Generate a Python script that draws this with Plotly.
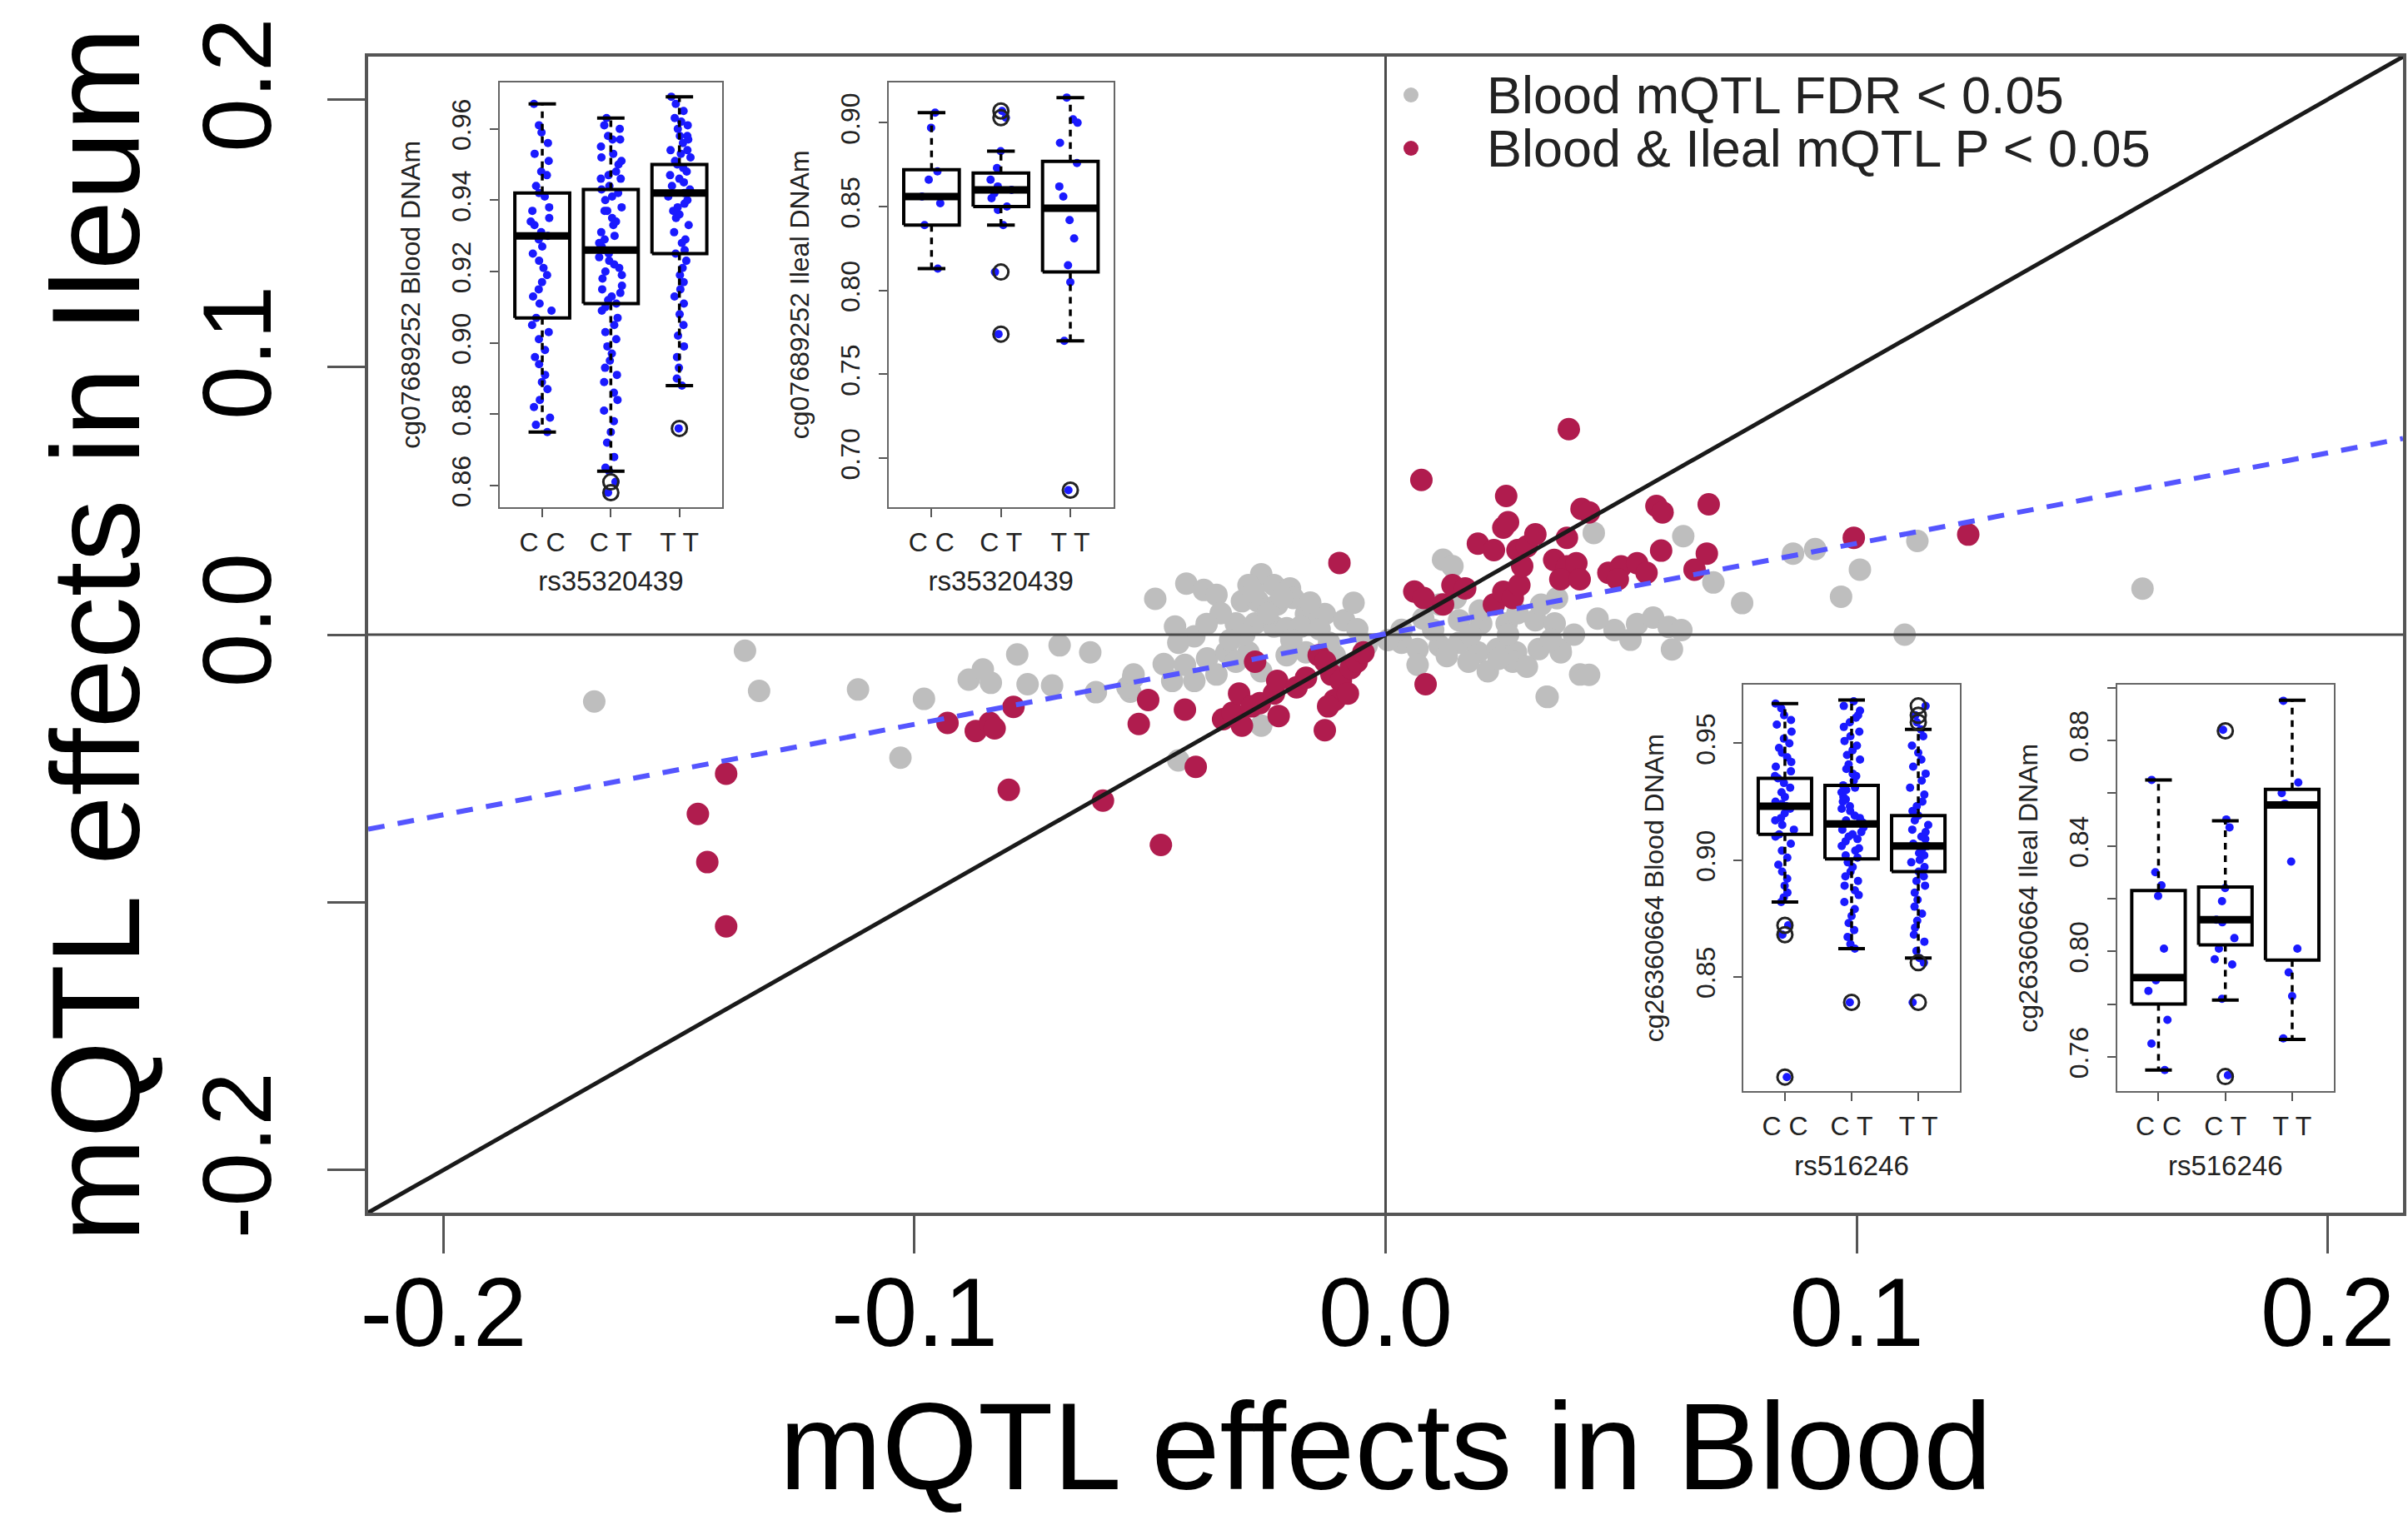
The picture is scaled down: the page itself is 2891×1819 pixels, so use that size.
import plotly.graph_objects as go

W, H = 2891, 1819
FONT = "Liberation Sans, Arial, Helvetica, sans-serif"

# ---------------- main scatter data (effect sizes) ----------------
gray_x = [-0.168, -0.136, -0.133, -0.112, -0.103, -0.098, -0.0885, -0.0855, -0.0838, -0.0782,
          -0.076, -0.0692, -0.0708, -0.0627, -0.0615, -0.0536, -0.0542, -0.0548, -0.0489, -0.0471,
          -0.0535, -0.0423, -0.0386, -0.0359, -0.0264, -0.0291, -0.0237, -0.0203, -0.0305, -0.0271,
          -0.023, -0.0196, -0.0169, -0.0129, -0.0088, -0.0068, -0.0318, -0.0277, -0.0237, -0.021,
          -0.0447, -0.0406, -0.044, -0.0426, -0.0379, -0.0338, -0.0291, -0.0318, -0.0453, -0.0406,
          -0.0359, -0.0264, -0.021, -0.0169, -0.0264, -0.044, -0.0101, -0.0108,
          -0.025, -0.018, -0.014, -0.035, -0.030, -0.020, -0.012, -0.006, -0.004, -0.038, -0.033,
          -0.028, -0.022, -0.016,
          0.0122, 0.0142, 0.0034, 0.0068, 0.0115, 0.0156, 0.0196, 0.0237, 0.0277, 0.0325, 0.0372,
          0.0068, 0.0217, 0.0176, 0.027, 0.0342, 0.0413, 0.0156, 0.0203, 0.0257, 0.0318, 0.0359,
          0.0034, 0.0101, 0.0115, 0.0149, 0.0442, 0.0632, 0.0696, 0.0757, 0.0865, 0.0912, 0.1007,
          0.0967, 0.1129, 0.1102, 0.1607, 0.0486, 0.0534, 0.0568, 0.0601, 0.0628, 0.052, 0.0608,
          0.0371, 0.0351, 0.0432, 0.0344, 0.033, 0.0364,
          0.008, 0.020, 0.028, 0.013, 0.024, 0.030, 0.018, 0.026, 0.040, 0.045, 0.0005]
gray_y = [-0.025, -0.006, -0.021, -0.0205, -0.046, -0.024, -0.0168, -0.013, -0.018, -0.0074,
          -0.0185, -0.004, -0.019, -0.0066, -0.0215, -0.0161, -0.0213, -0.0197, 0.0134, -0.011,
          -0.0149, 0.0191, 0.0167, 0.0149, 0.0226, 0.0185, 0.0185, 0.0173, 0.0125, 0.0125,
          0.0113, 0.0137, 0.0077, 0.0077, 0.0054, 0.0119, 0.0042, 0.0042, 0.003, 0.0024,
          0.003, -0.0006, -0.003, -0.0113, -0.0089, -0.0066, -0.0066, -0.0101, -0.0173, -0.0173,
          -0.0149, -0.0137, -0.0077, -0.0066, -0.034, -0.047, -0.0137, -0.0077,
          0.008, 0.003, 0.002, 0.008, 0.000, -0.002, -0.003, 0.002, -0.004, 0.004, -0.002,
          0.016, 0.014, 0.012,
          0.028, 0.0256, -0.003, -0.0054, -0.0042, -0.003, -0.0066, -0.0054, -0.0066, -0.0054, -0.0066,
          -0.0113, -0.0137, -0.0101, -0.0101, -0.0232, -0.0149, 0.0054, 0.0042, 0.0042, 0.0054, 0.0042,
          0.0018, 0.0018, 0.0113, 0.0137, 0.038, 0.0368, 0.0195, 0.0118, 0.0303, 0.032, 0.0243,
          0.0142, 0.035, 0.000, 0.0172, 0.0017, 0.004, 0.0064, 0.0029, 0.0017, -0.0019, -0.0055,
          -0.0055, -0.0019, -0.015, -0.0233, 0.0112, 0.0136,
          0.006, 0.009, 0.008, -0.008, -0.009, -0.012, 0.000, 0.000, 0.000, 0.006, -0.002]

red_x = [-0.146, -0.140, -0.144, -0.140, -0.093, -0.087, -0.084, -0.083, -0.079, -0.080,
         -0.060, -0.0524, -0.0504, -0.0477, -0.0426, -0.0403, -0.0345, -0.0325, -0.0311, -0.0305,
         -0.0284, -0.0277, -0.0267, -0.0237, -0.023, -0.0227, -0.0189, -0.0169, -0.0142, -0.0128,
         -0.0115, -0.0095, -0.0108, -0.0122, -0.0129, -0.0074, -0.0061, -0.0047, -0.0098, -0.008,
         0.0085, 0.0061, 0.0081, 0.0122, 0.0142, 0.0169, 0.023, 0.025, 0.027, 0.0284,
         0.029, 0.0196, 0.023, 0.025, 0.026, 0.028, 0.030, 0.0318, 0.0076, 0.0256,
         0.0389, 0.0385, 0.0416, 0.0432, 0.0358, 0.0385, 0.0405, 0.0371, 0.0412, 0.0473,
         0.050, 0.0534, 0.0554, 0.0493, 0.0585, 0.0575, 0.0588, 0.0686, 0.0682, 0.0656,
         0.0994, 0.1237]
red_y = [-0.067, -0.052, -0.085, -0.109, -0.033, -0.036, -0.033, -0.035, -0.027, -0.058,
         -0.062, -0.0334, -0.0244, -0.0786, -0.028, -0.0494, -0.0316, -0.0292, -0.022, -0.034,
         -0.0268, -0.0101, -0.0256, -0.022, -0.0173, -0.0304, -0.0197, -0.0161, -0.0077, -0.0101,
         -0.0149, -0.0173, -0.0244, -0.0268, -0.0357, -0.0125, -0.0101, -0.0066, 0.0268, -0.022,
         -0.0185, 0.0161, 0.0137, 0.0113, 0.0185, 0.0173, 0.0113, 0.016, 0.0137, 0.0185,
         0.0256, 0.034, 0.0316, 0.040, 0.042, 0.0316, 0.033, 0.0375, 0.0578, 0.0518,
         0.0768, 0.0362, 0.047, 0.0457, 0.0279, 0.0255, 0.0267, 0.0207, 0.0207, 0.0231,
         0.0255, 0.0267, 0.0231, 0.0207, 0.0314, 0.0481, 0.0457, 0.0487, 0.0303, 0.0243,
         0.0362, 0.0374]

fit_intercept = 0.0003
fit_slope = 0.338
axis_lim = 0.216
main_ticks = [-0.2, -0.1, 0.0, 0.1, 0.2]
main_xticktext = ["-0.2", "-0.1", "0.0", "0.1", "0.2"]
main_yticktext = ["-0.2", "", "0.0", "0.1", "0.2"]
legend_labels = ["Blood mQTL FDR < 0.05", "Blood & Ileal mQTL P < 0.05"]

# ---------------- inset data ----------------
genotypes = ["C C", "C T", "T T"]

# inset 1: cg07689252 blood, rs35320439
b1_cc = [0.967, 0.961, 0.959, 0.956, 0.953, 0.951, 0.948, 0.947, 0.944, 0.942, 0.941, 0.938, 0.937,
         0.935, 0.934, 0.933, 0.931, 0.930, 0.929, 0.927, 0.925, 0.923, 0.921, 0.919, 0.917, 0.915,
         0.913, 0.911, 0.909, 0.907, 0.905, 0.903, 0.901, 0.898, 0.896, 0.894, 0.891, 0.889, 0.887,
         0.884, 0.882, 0.879, 0.877, 0.875]
b1_ct = [0.963, 0.961, 0.960, 0.958, 0.957, 0.957, 0.955, 0.953, 0.952, 0.951, 0.950, 0.948, 0.947,
         0.946, 0.946, 0.944, 0.943, 0.942, 0.941, 0.940, 0.938, 0.937, 0.937, 0.935, 0.934, 0.933,
         0.931, 0.930, 0.929, 0.928, 0.927, 0.926, 0.926, 0.925, 0.924, 0.923, 0.922, 0.921, 0.920,
         0.919, 0.918, 0.916, 0.915, 0.914, 0.913, 0.912, 0.911, 0.910, 0.909, 0.907, 0.905, 0.903,
         0.901, 0.899, 0.897, 0.895, 0.893, 0.891, 0.889, 0.886, 0.884, 0.881, 0.878, 0.875, 0.872,
         0.868, 0.865, 0.864, 0.861, 0.858]
b1_tt = [0.969, 0.967, 0.965, 0.963, 0.962, 0.961, 0.960, 0.958, 0.958, 0.957, 0.956, 0.954, 0.954,
         0.953, 0.952, 0.951, 0.950, 0.949, 0.948, 0.947, 0.946, 0.945, 0.944, 0.943, 0.942, 0.941,
         0.940, 0.939, 0.938, 0.937, 0.936, 0.935, 0.933, 0.931, 0.929, 0.928, 0.926, 0.925, 0.923,
         0.921, 0.919, 0.917, 0.915, 0.913, 0.911, 0.908, 0.905, 0.902, 0.899, 0.896, 0.893, 0.890,
         0.888, 0.876]
b1_lo = [0.875, 0.864, 0.888]
b1_q1 = [0.907, 0.911, 0.925]
b1_med = [0.930, 0.926, 0.942]
b1_q3 = [0.942, 0.943, 0.950]
b1_hi = [0.967, 0.963, 0.969]
b1_out = [[], [0.861, 0.858], [0.876]]

# inset 2: cg07689252 ileal, rs35320439
i1_cc = [0.906, 0.897, 0.871, 0.866, 0.856, 0.852, 0.839, 0.813]
i1_ct = [0.907, 0.903, 0.883, 0.873, 0.866, 0.862, 0.860, 0.858, 0.855, 0.850, 0.848, 0.839, 0.811, 0.774]
i1_tt = [0.915, 0.902, 0.900, 0.888, 0.876, 0.862, 0.856, 0.842, 0.831, 0.815, 0.805, 0.770, 0.681]
i1_lo = [0.813, 0.839, 0.770]
i1_q1 = [0.839, 0.850, 0.811]
i1_med = [0.856, 0.860, 0.849]
i1_q3 = [0.872, 0.870, 0.877]
i1_hi = [0.906, 0.883, 0.915]
i1_out = [[], [0.907, 0.903, 0.811, 0.774], [0.681]]

# inset 3: cg26360664 blood, rs516246
b2_cc = [0.967, 0.965, 0.962, 0.960, 0.958, 0.955, 0.952, 0.950, 0.948, 0.946, 0.944, 0.942, 0.940,
         0.938, 0.936, 0.935, 0.933, 0.931, 0.929, 0.927, 0.925, 0.924, 0.923, 0.922, 0.920, 0.918,
         0.917, 0.915, 0.913, 0.911, 0.910, 0.907, 0.904, 0.901, 0.898, 0.895, 0.892, 0.889, 0.886,
         0.884, 0.882, 0.872, 0.868, 0.807]
b2_ct = [0.968, 0.966, 0.964, 0.962, 0.961, 0.959, 0.957, 0.955, 0.953, 0.951, 0.949, 0.947, 0.945,
         0.943, 0.941, 0.939, 0.937, 0.936, 0.934, 0.932, 0.931, 0.930, 0.929, 0.927, 0.926, 0.925,
         0.923, 0.922, 0.921, 0.919, 0.918, 0.917, 0.916, 0.915, 0.914, 0.913, 0.912, 0.911, 0.910,
         0.909, 0.908, 0.906, 0.905, 0.904, 0.902, 0.901, 0.899, 0.897, 0.895, 0.893, 0.891, 0.889,
         0.887, 0.885, 0.882, 0.879, 0.876, 0.873, 0.870, 0.867, 0.864, 0.862, 0.839]
b2_tt = [0.966, 0.962, 0.959, 0.956, 0.953, 0.949, 0.946, 0.943, 0.940, 0.937, 0.934, 0.931, 0.928,
         0.925, 0.923, 0.921, 0.919, 0.917, 0.915, 0.913, 0.912, 0.910, 0.909, 0.907, 0.906, 0.905,
         0.903, 0.902, 0.900, 0.899, 0.897, 0.895, 0.893, 0.891, 0.889, 0.886, 0.883, 0.880, 0.877,
         0.874, 0.871, 0.868, 0.865, 0.861, 0.858, 0.856, 0.839]
b2_lo = [0.882, 0.862, 0.858]
b2_q1 = [0.911, 0.9005, 0.895]
b2_med = [0.923, 0.9155, 0.906]
b2_q3 = [0.935, 0.932, 0.919]
b2_hi = [0.967, 0.9685, 0.956]
b2_out = [[0.872, 0.868, 0.807], [0.839], [0.966, 0.962, 0.959, 0.856, 0.839]]

# inset 4: cg26360664 ileal, rs516246
i2_cc = [0.865, 0.830, 0.825, 0.821, 0.801, 0.789, 0.785, 0.774, 0.765, 0.755]
i2_ct = [0.884, 0.850, 0.847, 0.824, 0.819, 0.812, 0.811, 0.805, 0.801, 0.797, 0.795, 0.782, 0.753]
i2_tt = [0.895, 0.864, 0.860, 0.856, 0.834, 0.801, 0.792, 0.783, 0.767]
i2_lo = [0.755, 0.7815, 0.7666]
i2_q1 = [0.780, 0.8024, 0.7967]
i2_med = [0.790, 0.812, 0.8555]
i2_q3 = [0.823, 0.8244, 0.8614]
i2_hi = [0.865, 0.8495, 0.8952]
i2_out = [[], [0.8836, 0.7525], []]

insets = [
    dict(ytitle="cg07689252 Blood DNAm", xtitle="rs35320439", groups=[b1_cc, b1_ct, b1_tt],
         lo=b1_lo, q1=b1_q1, med=b1_med, q3=b1_q3, hi=b1_hi, out=b1_out,
         yrange=[0.854, 0.973], yticks=[0.86, 0.88, 0.90, 0.92, 0.94, 0.96],
         yticktext=["0.86", "0.88", "0.90", "0.92", "0.94", "0.96"], box=(600, 866.7, 99, 608.6)),
    dict(ytitle="cg07689252 Ileal DNAm", xtitle="rs35320439", groups=[i1_cc, i1_ct, i1_tt],
         lo=i1_lo, q1=i1_q1, med=i1_med, q3=i1_q3, hi=i1_hi, out=i1_out,
         yrange=[0.671, 0.924], yticks=[0.70, 0.75, 0.80, 0.85, 0.90],
         yticktext=["0.70", "0.75", "0.80", "0.85", "0.90"], box=(1066.7, 1336.7, 99, 608.6)),
    dict(ytitle="cg26360664 Blood DNAm", xtitle="rs516246", groups=[b2_cc, b2_ct, b2_tt],
         lo=b2_lo, q1=b2_q1, med=b2_med, q3=b2_q3, hi=b2_hi, out=b2_out,
         yrange=[0.801, 0.975], yticks=[0.85, 0.90, 0.95],
         yticktext=["0.85", "0.90", "0.95"], box=(2093.3, 2352.7, 822.4, 1310)),
    dict(ytitle="cg26360664 Ileal DNAm", xtitle="rs516246", groups=[i2_cc, i2_ct, i2_tt],
         lo=i2_lo, q1=i2_q1, med=i2_med, q3=i2_q3, hi=i2_hi, out=i2_out,
         yrange=[0.747, 0.901], yticks=[0.76, 0.78, 0.80, 0.82, 0.84, 0.86, 0.88, 0.90],
         yticktext=["0.76", "", "0.80", "", "0.84", "", "0.88", ""], box=(2541.7, 2801.7, 822.4, 1310)),
]


def pxx(v):
    return v / W


def pxy(v):
    return 1 - v / H


fig = go.Figure()

# main points
fig.add_trace(go.Scatter(x=gray_x, y=gray_y, mode="markers", name=legend_labels[0],
                         marker=dict(color="#bebebe", size=27), hoverinfo="skip", showlegend=False))
fig.add_trace(go.Scatter(x=red_x, y=red_y, mode="markers", name=legend_labels[1],
                         marker=dict(color="#b01c4e", size=27), hoverinfo="skip", showlegend=False))
# reference lines
lim = axis_lim
fig.add_trace(go.Scatter(x=[-lim, lim], y=[0, 0], mode="lines", line=dict(color="#4a4a4a", width=3),
                         hoverinfo="skip", showlegend=False))
fig.add_trace(go.Scatter(x=[0, 0], y=[-lim, lim], mode="lines", line=dict(color="#4a4a4a", width=3),
                         hoverinfo="skip", showlegend=False))
fig.add_trace(go.Scatter(x=[-lim, lim], y=[-lim, lim], mode="lines", line=dict(color="#1a1a1a", width=5),
                         hoverinfo="skip", showlegend=False))
fig.add_trace(go.Scatter(x=[-lim, lim], y=[fit_intercept - fit_slope * lim, fit_intercept + fit_slope * lim],
                         mode="lines", line=dict(color="rgb(85,85,255)", width=6, dash="20px,16px"),
                         hoverinfo="skip", showlegend=False))

layout_axes = {}
hw = 0.4
for k, sp in enumerate(insets, start=2):
    xa, ya = "x%d" % k, "y%d" % k
    g = sp["groups"]
    # jittered sample points
    xs, ys = [], []
    for i, vals in enumerate(g):
        xs += [i + 1] * len(vals)
        ys += vals
    fig.add_trace(go.Box(x=xs, y=ys, xaxis=xa, yaxis=ya, boxpoints="all", jitter=0.45, pointpos=0,
                         width=0.8, fillcolor="rgba(0,0,0,0)", line=dict(color="rgba(0,0,0,0)", width=0),
                         marker=dict(color="#1a1aff", size=10), hoverinfo="skip", showlegend=False))
    rx, ry, mx, my, wx, wy, sx, sy, ox, oy = [], [], [], [], [], [], [], [], [], []
    for i in range(3):
        c = i + 1
        rx += [c - hw, c + hw, c + hw, c - hw, c - hw, None]
        ry += [sp["q1"][i], sp["q1"][i], sp["q3"][i], sp["q3"][i], sp["q1"][i], None]
        mx += [c - hw, c + hw, None]
        my += [sp["med"][i], sp["med"][i], None]
        wx += [c, c, None, c, c, None]
        wy += [sp["q3"][i], sp["hi"][i], None, sp["q1"][i], sp["lo"][i], None]
        sx += [c - hw / 2, c + hw / 2, None, c - hw / 2, c + hw / 2, None]
        sy += [sp["hi"][i], sp["hi"][i], None, sp["lo"][i], sp["lo"][i], None]
        ox += [c] * len(sp["out"][i])
        oy += sp["out"][i]
    fig.add_trace(go.Scatter(x=wx, y=wy, xaxis=xa, yaxis=ya, mode="lines",
                             line=dict(color="black", width=3.5, dash="8px,7px"), hoverinfo="skip", showlegend=False))
    fig.add_trace(go.Scatter(x=sx, y=sy, xaxis=xa, yaxis=ya, mode="lines",
                             line=dict(color="black", width=4), hoverinfo="skip", showlegend=False))
    fig.add_trace(go.Scatter(x=rx, y=ry, xaxis=xa, yaxis=ya, mode="lines",
                             line=dict(color="black", width=4), hoverinfo="skip", showlegend=False))
    fig.add_trace(go.Scatter(x=mx, y=my, xaxis=xa, yaxis=ya, mode="lines",
                             line=dict(color="black", width=9), hoverinfo="skip", showlegend=False))
    fig.add_trace(go.Scatter(x=ox, y=oy, xaxis=xa, yaxis=ya, mode="markers",
                             marker=dict(symbol="circle-open", color="#222", size=18, line=dict(width=3)),
                             hoverinfo="skip", showlegend=False))
    x0, x1, y0, y1 = sp["box"]
    common = dict(showgrid=False, zeroline=False, showline=True, mirror=True, linecolor="#666",
                  linewidth=2, ticks="outside", ticklen=10, tickwidth=2, tickcolor="#555", automargin=False,
                  tickfont=dict(family=FONT, size=32, color="#222"), fixedrange=True)
    layout_axes["xaxis%d" % k] = dict(common, domain=[pxx(x0), pxx(x1)], range=[0.38, 3.62], anchor=ya,
                                      tickmode="array", tickvals=[1, 2, 3], ticktext=genotypes,
                                      ticklabelstandoff=3,
                                      title=dict(text=sp["xtitle"], font=dict(family=FONT, size=33, color="#222"),
                                                 standoff=18))
    layout_axes["yaxis%d" % k] = dict(common, domain=[pxy(y1), pxy(y0)], range=sp["yrange"], anchor=xa,
                                      tickmode="array", tickvals=sp["yticks"], ticktext=sp["yticktext"],
                                      tickangle=-90, ticklabelstandoff=10,
                                      title=dict(text=sp["ytitle"], font=dict(family=FONT, size=32, color="#222"),
                                                 standoff=22))

main_common = dict(showgrid=False, zeroline=False, showline=True, mirror=True, linecolor="#555",
                   linewidth=4, ticks="outside", ticklen=45, tickwidth=3, tickcolor="#555", automargin=False,
                   range=[-lim, lim], tickmode="array", tickvals=main_ticks,
                   tickfont=dict(family=FONT, size=116, color="black"), fixedrange=True)

fig.update_layout(
    width=W, height=H, margin=dict(l=0, r=0, t=0, b=0, autoexpand=False),
    paper_bgcolor="white", plot_bgcolor="white", showlegend=False,
    xaxis=dict(main_common, domain=[pxx(442), pxx(2885)], anchor="y", ticktext=main_xticktext,
               ticklabelstandoff=-28,
               title=dict(text="mQTL effects in Blood", font=dict(family=FONT, size=148, color="black"),
                          standoff=90)),
    yaxis=dict(main_common, domain=[pxy(1456), pxy(68)], anchor="x", ticktext=main_yticktext,
               tickangle=-90, ticklabelstandoff=22,
               title=dict(text="mQTL effects in Ileum", font=dict(family=FONT, size=150, color="black"),
                          standoff=2)),
    **layout_axes,
)

# legend (drawn as text + dots, R style)
legend_colors = ["#bebebe", "#b01c4e"]
legend_rows_px = [114, 178]
for lab, col, ry in zip(legend_labels, legend_colors, legend_rows_px):
    fig.add_annotation(x=pxx(1783), y=pxy(ry), xref="paper", yref="paper", text=lab, showarrow=False,
                       xanchor="left", yanchor="middle", font=dict(family=FONT, size=63, color="#222"))
    fig.add_shape(type="circle", xref="paper", yref="paper", xsizemode="pixel", ysizemode="pixel",
                  xanchor=pxx(1694), yanchor=pxy(ry), x0=-9, x1=9, y0=-9, y1=9,
                  fillcolor=col, line=dict(width=0))

fig.write_html("out.html", post_script="document.body.style.margin='0';")
